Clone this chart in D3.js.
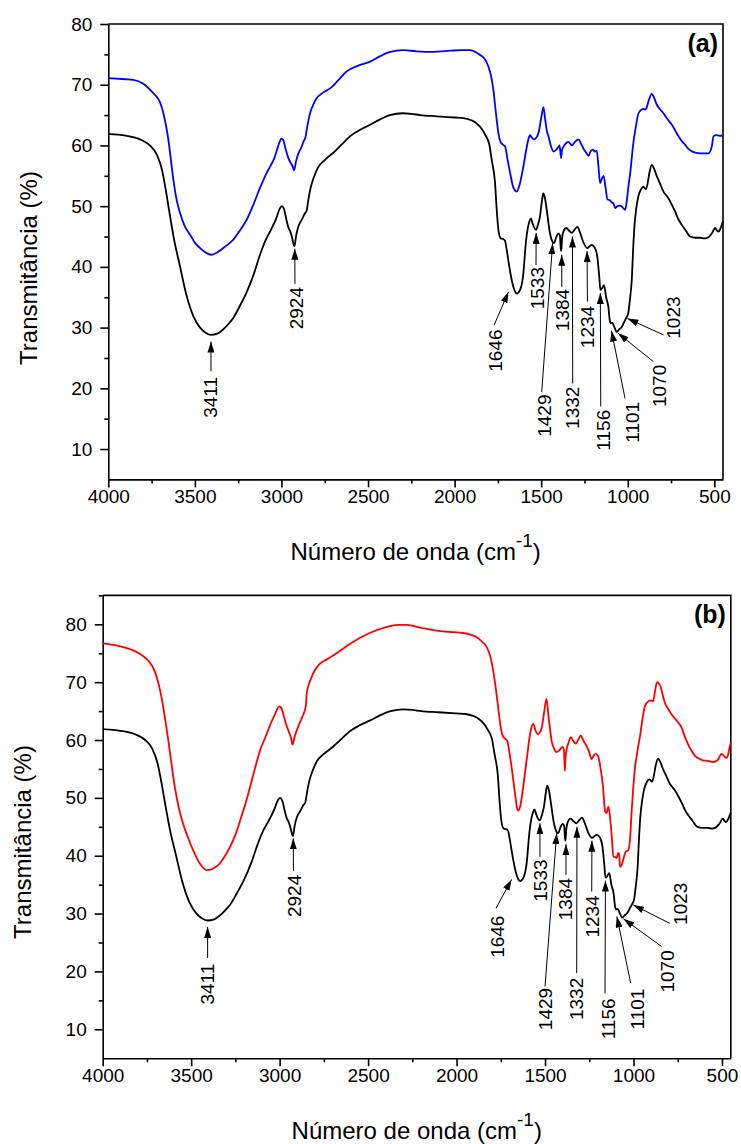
<!DOCTYPE html>
<html>
<head>
<meta charset="utf-8">
<script src="https://cdn.jsdelivr.net/npm/d3@7.9.0/dist/d3.min.js"></script>
<style>
  body { margin: 0; background: #fff; }
  svg text { font-family: "Liberation Sans", Arial, sans-serif; fill: #000; }
</style>
</head>
<body>
<svg id="chart" width="741" height="1144"></svg>
<script>
// FTIR spectra, [wavenumber (cm-1), transmittance (%)]
// black spectrum is the same in both panels
const black = [
  [4000,61.9],[3900,61.6],[3817,61.0],[3760,60.0],[3720,58.5],[3690,56.0],[3670,53.0],[3650,49.5],
  [3620,44.5],[3586,40.1],[3550,35.5],[3509,31.9],[3470,30.0],[3440,29.2],[3407,28.8],[3370,29.0],
  [3340,29.6],[3300,30.8],[3278,31.6],[3240,33.6],[3200,35.9],[3160,38.8],[3124,42.0],[3090,44.5],
  [3066,45.8],[3030,48.0],[3010,49.6],[2998,50.0],[2985,49.5],[2970,47.6],[2960,46.5],[2950,45.9],
  [2940,45.0],[2925,43.4],[2915,45.2],[2902,46.7],[2880,47.9],[2865,48.8],[2855,49.2],[2845,51.0],
  [2830,53.2],[2816,54.5],[2790,56.3],[2750,57.6],[2700,58.8],[2650,60.2],[2604,61.5],[2550,62.5],
  [2488,63.4],[2430,64.3],[2373,65.0],[2300,65.3],[2250,65.2],[2200,65.0],[2103,64.8],[2000,64.6],
  [1949,64.5],[1900,64.1],[1872,63.6],[1845,62.8],[1824,61.8],[1800,60.2],[1785,57.5],[1767,54.0],
  [1757,49.5],[1748,46.3],[1734,44.7],[1720,44.6],[1709,44.3],[1700,43.0],[1690,41.1],[1670,37.8],
  [1655,36.2],[1641,35.6],[1622,36.2],[1605,38.4],[1587,44.4],[1568,47.5],[1560,48.0],[1548,47.0],
  [1530,46.1],[1518,47.0],[1507,48.3],[1495,51.0],[1488,52.1],[1478,51.3],[1468,49.4],[1449,45.5],
  [1436,44.2],[1426,43.9],[1412,45.0],[1401,45.5],[1392,45.2],[1387,43.0],[1384,42.6],[1380,44.5],
  [1372,45.8],[1355,46.4],[1343,46.1],[1323,45.6],[1305,46.2],[1291,46.6],[1275,45.6],[1257,44.1],
  [1234,43.1],[1220,43.4],[1208,43.6],[1189,43.1],[1176,41.7],[1165,38.5],[1158,36.2],[1148,36.5],
  [1137,37.0],[1125,35.0],[1112,33.4],[1104,31.2],[1098,30.7],[1090,30.8],[1083,30.5],[1075,29.9],
  [1064,29.3],[1050,29.7],[1035,30.1],[1016,31.2],[1005,31.8],[997,32.4],[988,34.5],[977,37.8],
  [968,43.5],[962,46.5],[950,49.8],[939,51.6],[925,52.7],[910,53.2],[895,52.8],[885,53.8],
  [875,55.5],[861,56.8],[850,56.3],[832,54.9],[815,53.8],[794,52.4],[770,51.5],[745,50.2],
  [725,49.0],[707,47.8],[690,47.0],[668,46.1],[640,45.0],[610,44.8],[582,44.8],[555,44.7],
  [534,44.9],[515,45.5],[495,46.4],[485,46.0],[476,45.8],[465,46.3],[450,47.5]
];

const blue = [
  [4000,71.1],[3900,70.9],[3856,70.8],[3800,70.2],[3778,69.7],[3740,68.6],[3720,68.0],[3700,67.0],
  [3682,65.3],[3665,63.0],[3653,60.9],[3638,57.5],[3624,54.3],[3605,51.0],[3586,48.9],[3560,46.8],
  [3528,45.3],[3500,44.0],[3470,43.1],[3440,42.4],[3407,42.0],[3370,42.4],[3336,43.1],[3300,43.9],
  [3278,44.5],[3240,46.0],[3200,47.8],[3160,50.4],[3124,53.0],[3090,55.2],[3066,56.5],[3040,58.0],
  [3020,59.8],[3000,61.1],[2990,60.9],[2975,59.3],[2960,57.9],[2946,57.1],[2935,56.5],[2927,55.9],
  [2915,57.5],[2902,58.7],[2885,59.7],[2873,60.6],[2860,61.5],[2854,62.6],[2845,64.0],[2835,65.3],
  [2815,66.8],[2796,67.8],[2760,68.7],[2719,69.4],[2670,70.8],[2623,72.2],[2560,73.1],[2488,73.8],
  [2430,74.7],[2373,75.4],[2296,75.7],[2220,75.5],[2142,75.4],[2080,75.5],[2026,75.6],[1960,75.7],
  [1911,75.7],[1880,75.4],[1853,74.9],[1825,74.2],[1805,73.0],[1790,71.5],[1776,69.1],[1762,65.5],
  [1747,62.0],[1735,60.6],[1727,60.3],[1715,60.0],[1708,59.8],[1695,57.8],[1679,55.4],[1660,53.0],
  [1641,52.4],[1625,53.5],[1603,56.5],[1585,59.5],[1570,61.4],[1564,61.7],[1552,61.2],[1541,61.0],
  [1528,61.3],[1516,62.0],[1500,64.5],[1487,66.3],[1478,64.5],[1468,62.5],[1458,61.5],[1445,60.0],
  [1429,59.0],[1412,59.3],[1400,59.8],[1394,60.0],[1388,58.5],[1385,57.9],[1380,59.2],[1371,59.8],
  [1355,60.4],[1343,60.6],[1330,60.2],[1323,60.0],[1305,60.6],[1285,61.0],[1270,60.3],[1256,59.5],
  [1240,58.8],[1227,58.3],[1215,59.0],[1202,59.3],[1190,59.0],[1179,59.1],[1170,56.8],[1160,53.8],
  [1150,54.5],[1140,55.0],[1128,53.0],[1117,51.1],[1105,51.0],[1092,50.6],[1082,50.4],[1073,49.7],
  [1060,50.0],[1044,50.1],[1030,49.8],[1015,49.4],[1005,51.0],[995,53.5],[986,55.4],[975,58.5],
  [967,60.6],[955,62.8],[938,65.3],[920,65.9],[909,66.0],[898,65.9],[890,66.3],[878,67.5],
  [861,68.5],[850,68.0],[832,66.7],[815,66.0],[794,65.3],[770,64.3],[745,63.4],[725,62.4],
  [707,61.5],[690,60.8],[668,60.1],[655,59.6],[640,59.2],[610,58.8],[582,58.7],[534,58.7],
  [515,59.8],[505,61.5],[490,61.7],[470,61.6],[450,61.6]
];

const red = [
  [4000,76.7],[3900,76.2],[3827,75.5],[3780,74.7],[3751,74.0],[3720,72.8],[3695,70.9],[3675,68.5],
  [3658,65.7],[3643,62.8],[3629,59.9],[3610,55.6],[3592,51.8],[3570,48.3],[3545,45.5],[3515,42.9],
  [3488,40.9],[3450,38.6],[3412,37.5],[3375,37.8],[3337,38.7],[3310,39.9],[3281,41.5],[3250,43.6],
  [3224,46.0],[3195,48.8],[3168,51.8],[3140,55.0],[3111,58.2],[3080,60.5],[3055,62.5],[3030,64.2],
  [3002,65.8],[2990,65.5],[2975,64.0],[2964,62.8],[2949,61.5],[2935,60.3],[2927,59.2],[2915,60.6],
  [2904,61.6],[2890,62.7],[2876,63.7],[2865,64.5],[2857,65.2],[2850,66.5],[2847,68.0],[2835,69.6],
  [2819,70.9],[2800,72.1],[2772,73.2],[2735,73.9],[2697,74.6],[2650,75.6],[2603,76.6],[2550,77.6],
  [2490,78.5],[2430,79.2],[2377,79.7],[2320,79.9],[2282,79.9],[2200,79.4],[2113,78.9],[2040,78.7],
  [1963,78.5],[1920,78.2],[1887,77.8],[1860,77.1],[1830,76.1],[1810,74.5],[1793,72.0],[1780,69.3],
  [1765,65.7],[1752,62.5],[1740,60.8],[1725,60.2],[1714,59.9],[1700,57.6],[1689,55.3],[1670,50.8],
  [1660,48.6],[1652,47.8],[1640,48.6],[1625,51.5],[1614,54.1],[1600,57.5],[1590,59.9],[1578,62.0],
  [1567,62.8],[1553,61.6],[1539,61.0],[1530,61.3],[1520,61.9],[1505,64.8],[1492,67.1],[1480,64.0],
  [1470,61.5],[1463,59.9],[1450,58.6],[1435,57.9],[1420,58.2],[1401,58.8],[1393,58.3],[1390,56.0],
  [1388,54.7],[1385,56.5],[1379,58.2],[1365,59.7],[1354,60.5],[1340,59.8],[1326,59.4],[1310,60.2],
  [1298,60.8],[1285,60.0],[1266,59.0],[1250,57.9],[1237,56.7],[1225,57.3],[1213,57.6],[1200,57.2],
  [1194,56.5],[1183,54.5],[1172,51.8],[1165,49.0],[1160,47.6],[1152,47.4],[1142,48.5],[1132,46.5],
  [1122,43.0],[1114,39.8],[1105,39.8],[1095,39.6],[1087,40.5],[1081,40.2],[1076,38.1],[1068,38.3],
  [1058,39.3],[1044,40.7],[1029,41.0],[1018,43.5],[1010,47.9],[1003,51.0],[991,55.4],[983,57.0],
  [974,58.8],[964,60.5],[950,63.5],[936,65.8],[922,66.5],[908,66.8],[895,66.8],[889,66.7],
  [878,68.5],[867,70.0],[857,69.8],[847,69.3],[835,67.8],[823,66.5],[800,65.2],[777,64.1],
  [752,63.2],[729,62.2],[710,60.6],[692,59.3],[673,58.2],[654,57.3],[630,56.8],[607,56.5],
  [580,56.4],[550,56.2],[525,56.5],[503,57.6],[490,57.3],[475,56.9],[465,57.5],[456,58.9],[450,59.5]
];

// band assignments: label, arrow tip [wn, T]
const peaks = ['3411','2924','1646','1533','1429','1384','1332','1234','1156','1101','1070','1023'];
const tips = [
  [3407,27.7],[2923,43.0],[1689,35.9],[1529,45.6],[1434,43.9],[1381.5,42.0],
  [1319.5,45.0],[1235,42.6],[1158.5,35.7],[1094,29.5],[1057,29.1],[1002,31.5]
];
// label centres and arrow tails in data units, panel (a)
const labelsA = [
  [3408,18.5],[2912,33.2],[1762,26.2],[1521,36.5],[1483,15.5],[1377,32.9],
  [1319,16.8],[1232,30.1],[1141,13.1],[975,14.4],[819,20.4],[737,31.65]
];
const tailsA = [
  [3407,22.8],[2922,37.2],[1772,30.4],[1530,40.3],[1497,19.4],[1381,36.7],
  [1318,20.8],[1233,34.3],[1156,17.0],[1016,18.35],[852,24.4],[794,28.8]
];
// panel (b)
const labelsB = [
  [3408,17.8],[2919,33.05],[1769,26.0],[1524,35.7],[1496,13.5],[1383,32.5],
  [1321,15.25],[1232,29.5],[1144,11.8],[977.5,13.5],[808,20.0],[737,31.7]
];
const tailsB = [
  [3407,22.3],[2922,37.4],[1777,30.9],[1528.5,39.8],[1500,17.4],[1381.5,36.7],
  [1321,19.7],[1236,33.8],[1161,16.2],[1016,18.0],[841,24.3],[794,28.3]
];

const xDomain = [4000, 450];
const xMajor = [4000, 3500, 3000, 2500, 2000, 1500, 1000, 500];
const xMinor = [3750, 3250, 2750, 2250, 1750, 1250, 750];
const yMajor = [10, 20, 30, 40, 50, 60, 70, 80];
const yMinorA = [15, 25, 35, 45, 55, 65, 75];
const yMinorB = [15, 25, 35, 45, 55, 65, 75, 85];

const FONT = '"Liberation Sans", Arial, sans-serif';
const svg = d3.select('#chart');

svg.append('defs').append('marker')
  .attr('id', 'arrow')
  .attr('viewBox', '0 0 11 7')
  .attr('markerUnits', 'userSpaceOnUse')
  .attr('markerWidth', 11)
  .attr('markerHeight', 7)
  .attr('refX', 11)
  .attr('refY', 3.5)
  .attr('orient', 'auto')
  .append('path')
  .attr('d', 'M0,0L11,3.5L0,7Z')
  .attr('fill', '#000');

const panels = [
  { box: [108.3, 24, 723, 479.4], yDomain: [5, 80], yMinor: yMinorA,
    series: [[blue, '#0000ff'], [black, '#000']], tag: '(a)',
    labels: labelsA, tails: tailsA, yTitle: [37, 268], xTitleY: 560 },
  { box: [102.7, 595.4, 730.8, 1058.2], yDomain: [5, 85], yMinor: yMinorB,
    series: [[red, '#ff0000'], [black, '#000']], tag: '(b)',
    labels: labelsB, tails: tailsB, yTitle: [31, 842], xTitleY: 1139 },
];

function styleAxis(g) {
  g.attr('font-size', 19).attr('font-family', FONT);
  g.selectAll('line').attr('stroke', '#000').attr('stroke-width', 1.6);
  g.select('.domain').attr('stroke', '#000').attr('stroke-width', 1.6);
  g.selectAll('text').attr('fill', '#000');
}

panels.forEach((p) => {
  const [L, T, R, B] = p.box;
  const x = d3.scaleLinear().domain(xDomain).range([L, R]);
  const y = d3.scaleLinear().domain(p.yDomain).range([B, T]);
  const g = svg.append('g');

  // minor ticks
  g.append('g').attr('transform', `translate(0,${B})`)
    .call(d3.axisBottom(x).tickValues(xMinor).tickSize(4).tickFormat(''))
    .call((a) => a.select('.domain').remove())
    .call(styleAxis);
  g.append('g').attr('transform', `translate(${L},0)`)
    .call(d3.axisLeft(y).tickValues(p.yMinor).tickSize(4).tickFormat(''))
    .call((a) => a.select('.domain').remove())
    .call(styleAxis);

  // major axes
  g.append('g').attr('transform', `translate(0,${B})`)
    .call(d3.axisBottom(x).tickValues(xMajor).tickSize(8).tickSizeOuter(0).tickPadding(2).tickFormat(d3.format('d')))
    .call(styleAxis);
  g.append('g').attr('transform', `translate(${L},0)`)
    .call(d3.axisLeft(y).tickValues(yMajor).tickSize(8).tickSizeOuter(0).tickPadding(8).tickFormat(d3.format('d')))
    .call(styleAxis);

  // frame top and right
  g.append('path')
    .attr('d', `M${L},${T}H${R}V${B}`)
    .attr('fill', 'none').attr('stroke', '#000').attr('stroke-width', 1.6);

  // spectra
  const line = d3.line().x((d) => x(d[0])).y((d) => y(d[1])).curve(d3.curveMonotoneX);
  p.series.forEach(([data, color]) => {
    g.append('path').datum(data)
      .attr('d', line)
      .attr('fill', 'none')
      .attr('stroke', color)
      .attr('stroke-width', 1.8)
      .attr('stroke-linejoin', 'round');
  });

  // band annotations
  peaks.forEach((label, i) => {
    g.append('line')
      .attr('x1', x(p.tails[i][0])).attr('y1', y(p.tails[i][1]))
      .attr('x2', x(tips[i][0])).attr('y2', y(tips[i][1]))
      .attr('stroke', '#000').attr('stroke-width', 1)
      .attr('marker-end', 'url(#arrow)');
    g.append('text')
      .attr('transform', `translate(${x(p.labels[i][0])},${y(p.labels[i][1])}) rotate(-90)`)
      .attr('text-anchor', 'middle')
      .attr('dy', '0.35em')
      .attr('font-size', 19)
      .text(label);
  });

  // panel tag
  g.append('text')
    .attr('x', R - 5).attr('y', T + 28)
    .attr('text-anchor', 'end')
    .attr('font-size', 25).attr('font-weight', 'bold')
    .text(p.tag);

  // axis titles
  g.append('text')
    .attr('transform', `translate(${p.yTitle[0]},${p.yTitle[1]}) rotate(-90)`)
    .attr('text-anchor', 'middle')
    .attr('font-size', 24)
    .text('Transmitância (%)');

  const xt = g.append('text')
    .attr('x', (L + R) / 2).attr('y', p.xTitleY)
    .attr('text-anchor', 'middle')
    .attr('font-size', 24);
  xt.append('tspan').text('Número de onda (cm');
  xt.append('tspan').attr('dy', -13).attr('font-size', 19).text('-1');
  xt.append('tspan').attr('dy', 13).text(')');
});
</script>
</body>
</html>
